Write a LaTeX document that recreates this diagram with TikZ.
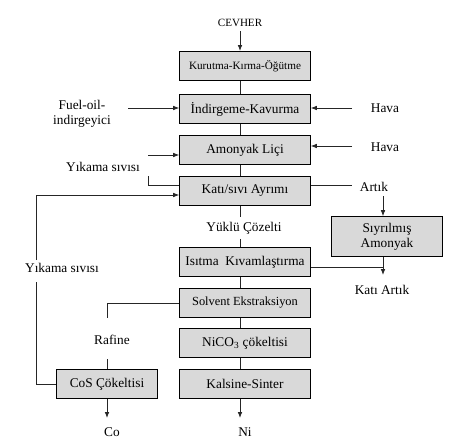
\documentclass[tikz,border=0pt]{standalone}
\usepackage{fontspec}
\setmainfont{Liberation Serif}
\usetikzlibrary{positioning, arrows.meta}
\tikzset{
node distance=8.25pt,
>={Latex[width=3.5pt,length=4.5pt]},
every node/.append style={font=\fontsize{10}{11.25}\selectfont},
process/.style={draw, line width=0.8pt, fill=black!15, minimum width=98pt, minimum height=21.7pt},
flow/.style={line width=0.6pt, draw=black!85},
}

\begin{document}
\begin{tikzpicture}[x=0.75pt, y=-0.75pt]
            \useasboundingbox (0,0) rectangle (450,439);

            % main column
            \node[process, font=\fontsize{8.4}{10}\selectfont] (kurutma) at (245,66) {Kurutma-Kırma-Öğütme};
            \node[process, below=9.75pt of kurutma] (indirgeme) {İndirgeme-Kavurma};
            \node[process, below=of indirgeme] (amonyak) {Amonyak Liçi};
            \node[process, below=of amonyak] (ayrim) {Katı/sıvı Ayrımı};
            \node[process, below=30.75pt of ayrim, inner xsep=1pt] (isitma) {Isıtma\hspace{5pt}Kıvamlaştırma};
            \node[process, below=of isitma, font=\fontsize{9.3}{11}\selectfont] (solvent) {Solvent Ekstraksiyon};
            \node[process, below=7.5pt of solvent] (nico) {NiCO\textsubscript{3} çökeltisi};
            \node[process, below=of nico] (kalsine) {Kalsine-Sinter};

            % side boxes
            \node[process, minimum width=83pt, minimum height=29.7pt, align=center] (siyrilmis) at (387,236.5) {Sıyrılmış\\Amonyak};
            \node[process, minimum width=75.5pt] (cos) at (107,384) {CoS Çökeltisi};

            % texts
            \node[font=\fontsize{8.3}{10}\selectfont] (cevher) at (240,23) {CEVHER};
            \node[align=center] (fuel) at (82,113.5) {Fuel-oil-\\indirgeyici};
            \node (hava1) at (385,108) {Hava};
            \node (hava2) at (385,147) {Hava};
            \node (yikama1) at (103,167) {Yıkama sıvısı};
            \node (artik) at (374,187) {Artık};
            \node (yuklu) at (244,228) {Yüklü Çözelti};
            \node (katiartik) at (382,290) {Katı Artık};
            \node (rafine) at (112,340) {Rafine};
            \node (yikama2) at (62,268) {Yıkama sıvısı};
            \node (co) at (112,432) {Co};
            \node (ni) at (245,432) {Ni};

            % free ends
            \coordinate (fuelin) at (128,108);
            \coordinate (hava1in) at (352,108);
            \coordinate (hava2in) at (352,146);
            \coordinate (yikin) at (148,155);
            \coordinate (yiktop) at (148,176);
            \coordinate (artikin) at (352,185);
            \coordinate (artikout) at (383,196);
            \coordinate (katiout) at (383,275);
            \coordinate (rafin) at (107,318);
            \coordinate (rafout) at (107,359);
            \coordinate (loopbot) at (36,282);
            \coordinate (looptop) at (36,260);
            \coordinate (coout) at (107,418);
            \coordinate (niout) at (240,418);
            \coordinate (mainx) at (240,0);

            % main flow
            \draw[flow, ->] (cevher) -- (kurutma.north -| mainx);
            \draw[flow] (kurutma.south -| mainx) -- (indirgeme.north -| mainx);
            \draw[flow] (indirgeme.south -| mainx) -- (amonyak.north -| mainx);
            \draw[flow] (amonyak.south -| mainx) -- (ayrim.north -| mainx);
            \draw[flow] (ayrim.south -| mainx) -- (yuklu.north -| mainx);
            \draw[flow] (yuklu.south -| mainx) -- (isitma.north -| mainx);
            \draw[flow] (isitma.south -| mainx) -- (solvent.north -| mainx);
            \draw[flow] (solvent.south -| mainx) -- (nico.north -| mainx);
            \draw[flow] (nico.south -| mainx) -- (kalsine.north -| mainx);
            \draw[flow, ->] (kalsine.south -| mainx) -- (niout);

            % inputs
            \draw[flow, ->] (fuelin) -- (indirgeme.west |- fuelin);
            \draw[flow, ->] (hava1in) -- (indirgeme.east |- hava1in);
            \draw[flow, ->] (hava2in) -- (amonyak.east |- hava2in);
            \draw[flow, ->] (yikin) -- (amonyak.west |- yikin);
            \draw[flow] (yiktop) |- (ayrim.west |- 0,185);

            % residue
            \draw[flow] (ayrim.east |- artikin) -- (artikin);
            \draw[flow, ->] (artikout) -- (siyrilmis.north -| artikout);
            \draw[flow, ->] (siyrilmis.south -| katiout) -- (katiout);
            \draw[flow] (isitma.east |- 0,267) -- (383,267);

            % cobalt branch
            \draw[flow] (solvent.west) -| (rafin);
            \draw[flow] (rafout) -- (cos.north -| rafout);
            \draw[flow, ->] (cos) -- (coout);
            \draw[flow] (cos.west) -| (loopbot);
            \draw[flow, ->] (looptop) |- (ayrim.west |- 0,195);

     \end{tikzpicture}
\end{document}
